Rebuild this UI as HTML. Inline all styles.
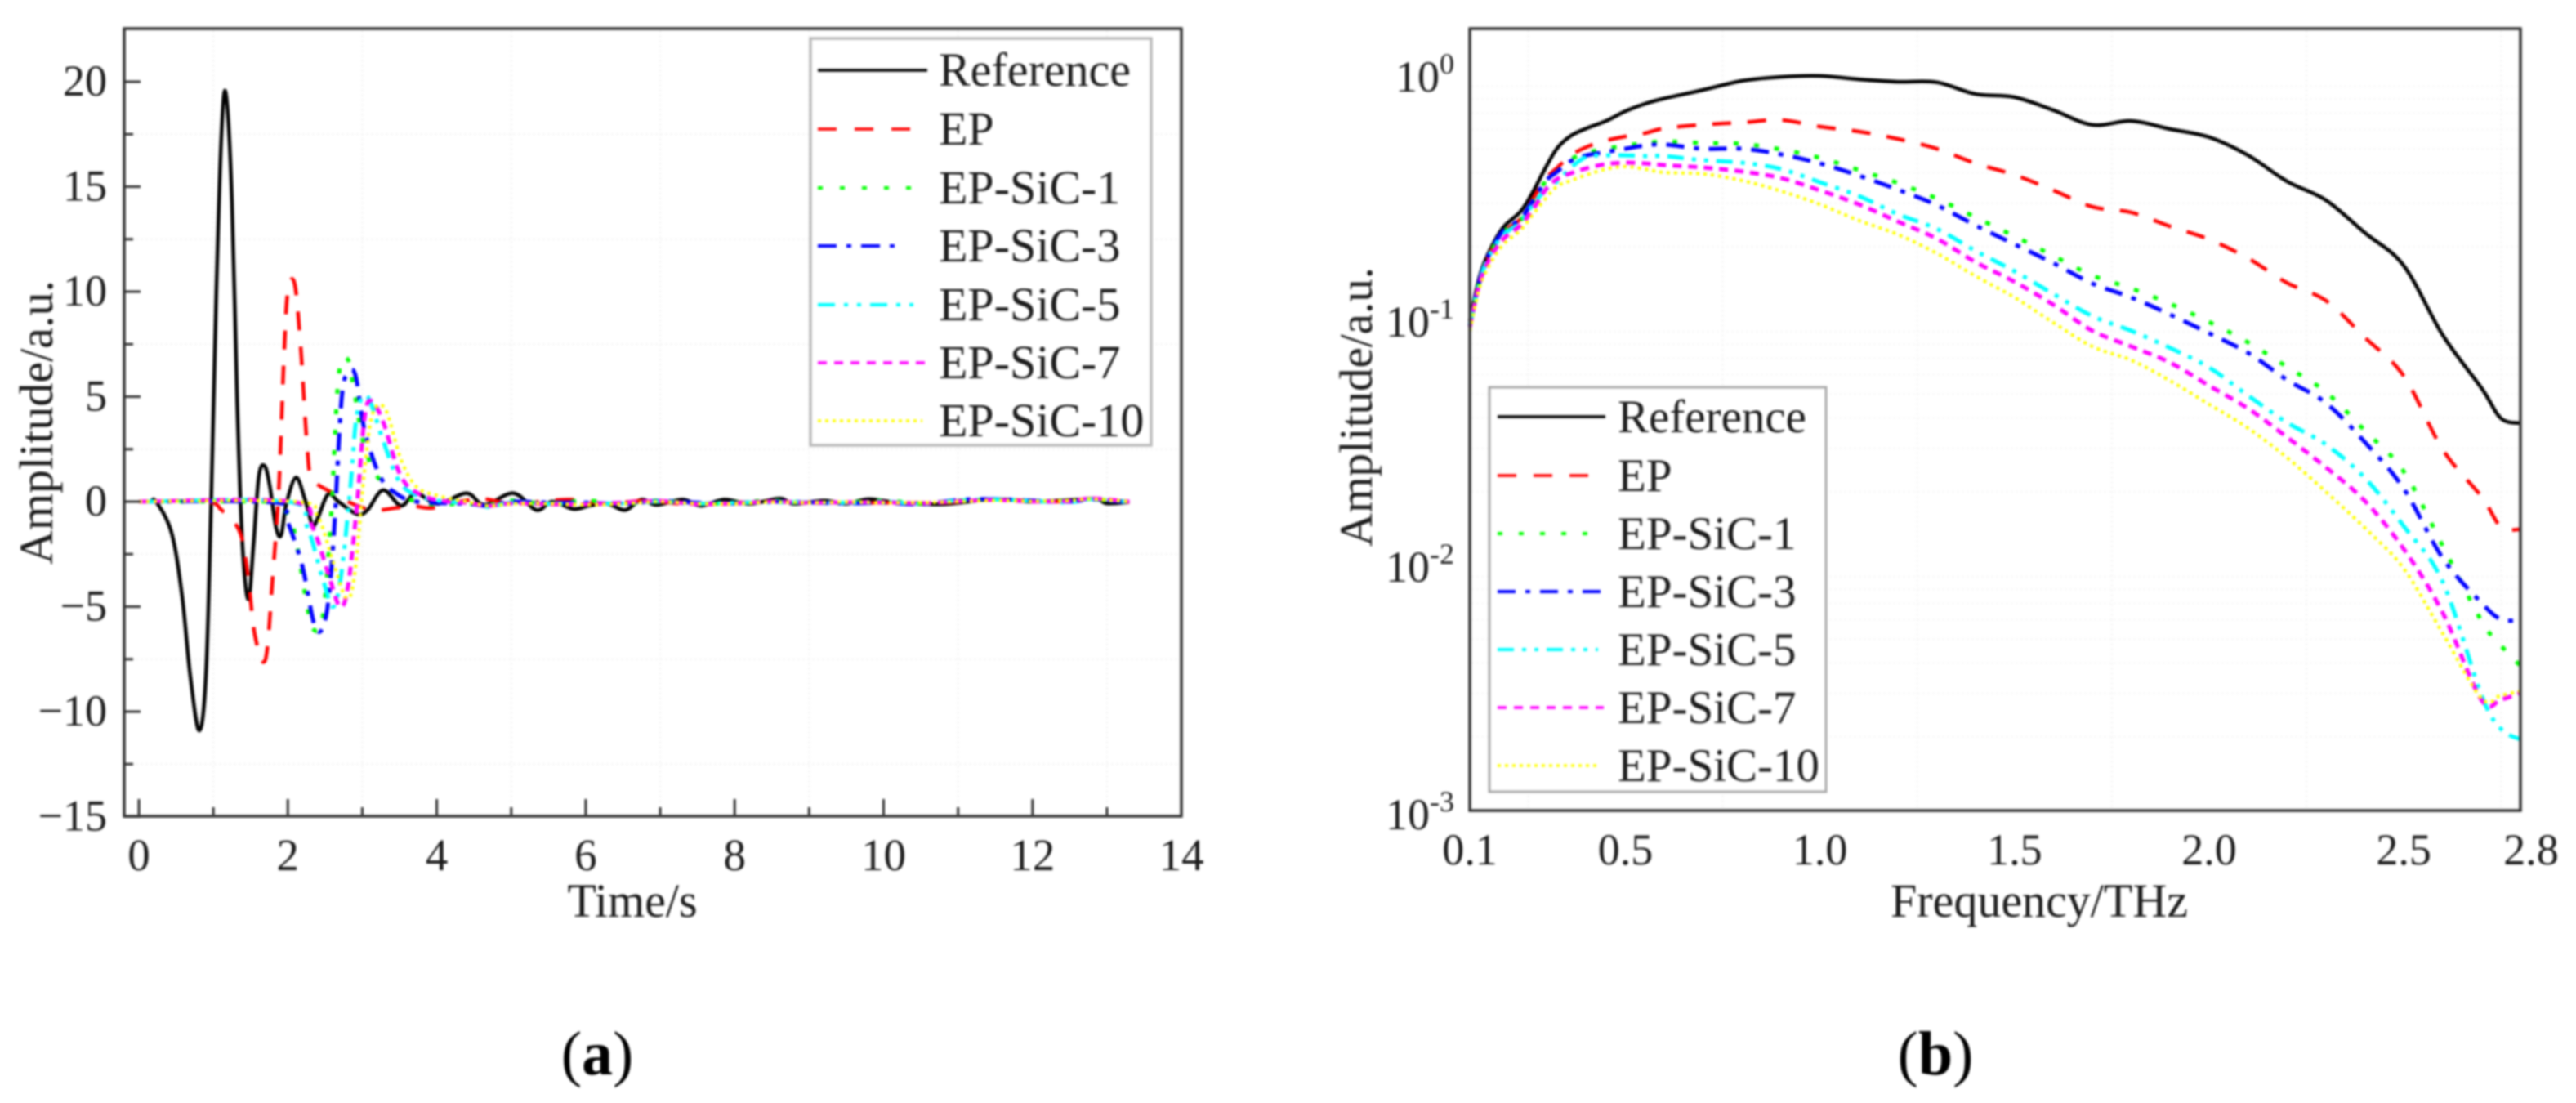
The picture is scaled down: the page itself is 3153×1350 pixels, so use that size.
<!DOCTYPE html>
<html lang="en">
<head>
<meta charset="utf-8">
<title>THz time-domain and frequency-domain spectra</title>
<style>
html,body{margin:0;padding:0;background:#fff;}
#figure{display:block;width:3153px;height:1350px;filter:blur(1.4px);font-family:"Liberation Serif",serif;fill:#1c1c1c;}
text{font-family:"Liberation Serif",serif;}
</style>
</head>
<body>
<svg id="figure" xmlns="http://www.w3.org/2000/svg" width="3153" height="1350" viewBox="0 0 3153 1350">
  <rect x="0" y="0" width="3153" height="1350" fill="#fff"/>

  <g id="panelA">
    <g id="gridA"></g>
    <g id="seriesA"></g>
    <rect x="152" y="35" width="1294" height="964" fill="none" stroke="#333" stroke-width="3.5"/>
    <g id="ticksA"></g>
    <text transform="translate(64,517) rotate(-90)" text-anchor="middle" font-size="58">Amplitude/a.u.</text>
    <text x="774" y="1122" text-anchor="middle" font-size="58">Time/s</text>
    <g>
      <rect x="992" y="47" width="417" height="498" fill="#fff" stroke="#bbb" stroke-width="3.5"/>
      <g><line x1="1001" x2="1135" y1="86" y2="86" stroke="#000" stroke-width="3.5"/><text x="1149" y="105" font-size="58">Reference</text></g>
      <g><line x1="1001" x2="1114" y1="158" y2="158" stroke="#f00" stroke-width="3.5" stroke-dasharray="23 22"/><text x="1149" y="177" font-size="58">EP</text></g>
      <g><line x1="1001" x2="1116" y1="230" y2="230" stroke="#0f0" stroke-width="4" stroke-dasharray="6 21"/><text x="1149" y="249" font-size="58">EP-SiC-1</text></g>
      <g><line x1="1001" x2="1104" y1="301" y2="301" stroke="#00f" stroke-width="4" stroke-dasharray="23 12 6 12"/><text x="1149" y="320" font-size="58">EP-SiC-3</text></g>
      <g><line x1="1001" x2="1126" y1="373" y2="373" stroke="#0ff" stroke-width="4" stroke-dasharray="21 11 5 11 5 11"/><text x="1149" y="392" font-size="58">EP-SiC-5</text></g>
      <g><line x1="1001" x2="1135" y1="444" y2="444" stroke="#f0f" stroke-width="3.5" stroke-dasharray="11 9"/><text x="1149" y="463" font-size="58">EP-SiC-7</text></g>
      <g><line x1="1001" x2="1129" y1="515" y2="515" stroke="#ff0" stroke-width="3.5" stroke-dasharray="4 5"/><text x="1149" y="534" font-size="58">EP-SiC-10</text></g>
    </g>
  </g>

  <g id="panelB">
    <g id="gridB"></g>
    <g id="seriesB"></g>
    <rect x="1799" y="35" width="1286" height="957" fill="none" stroke="#333" stroke-width="3.5"/>
    <g id="ticksB"></g>
    <text transform="translate(1679,498) rotate(-90)" text-anchor="middle" font-size="57">Amplitude/a.u.</text>
    <text x="2496" y="1122" text-anchor="middle" font-size="58">Frequency/THz</text>
    <g>
      <rect x="1823" y="474" width="412" height="495" fill="#fff" stroke="#aaa" stroke-width="3"/>
      <g><line x1="1833" x2="1965" y1="510" y2="510" stroke="#000" stroke-width="3.5"/><text x="1980" y="529" font-size="57">Reference</text></g>
      <g><line x1="1833" x2="1944" y1="582" y2="582" stroke="#f00" stroke-width="3.5" stroke-dasharray="23 21"/><text x="1980" y="601" font-size="57">EP</text></g>
      <g><line x1="1833" x2="1944" y1="653" y2="653" stroke="#0f0" stroke-width="4" stroke-dasharray="6 20"/><text x="1980" y="672" font-size="57">EP-SiC-1</text></g>
      <g><line x1="1833" x2="1965" y1="724" y2="724" stroke="#00f" stroke-width="4" stroke-dasharray="22 12 6 12"/><text x="1980" y="743" font-size="57">EP-SiC-3</text></g>
      <g><line x1="1833" x2="1956" y1="795" y2="795" stroke="#0ff" stroke-width="4" stroke-dasharray="20 10 5 10 5 10"/><text x="1980" y="814" font-size="57">EP-SiC-5</text></g>
      <g><line x1="1833" x2="1963" y1="866" y2="866" stroke="#f0f" stroke-width="3.5" stroke-dasharray="11 9"/><text x="1980" y="885" font-size="57">EP-SiC-7</text></g>
      <g><line x1="1833" x2="1958" y1="937" y2="937" stroke="#ff0" stroke-width="3.5" stroke-dasharray="4 5"/><text x="1980" y="956" font-size="57">EP-SiC-10</text></g>
    </g>
  </g>

  <text x="731" y="1315" text-anchor="middle" font-size="76" fill="#000">(<tspan font-weight="bold">a</tspan>)</text>
  <text x="2369" y="1315" text-anchor="middle" font-size="76" fill="#000">(<tspan font-weight="bold">b</tspan>)</text>
</svg>

<script>
// ---------- Panel (a): time domain ----------
const timeTicks = [0, 2, 4, 6, 8, 10, 12, 14];
const timeMinorTicks = [1, 3, 5, 7, 9, 11, 13];
const amplitudeTicks = [20, 15, 10, 5, 0, -5, -10, -15];
const amplitudeMinorTicks = [17.5, 12.5, 7.5, 2.5, -2.5, -7.5, -12.5];

const timeReference = [0,.15,.23,.44,.58,.69,.81,.9,.97,1.04,1.11,1.17,1.25,1.32,1.39,1.47,1.54,1.61,1.69,1.76,1.84,1.91,1.98,2.11,2.23,2.33,2.4,2.54,2.68,2.93,3.07,3.28,3.52,3.72,4.01,4.4,4.64,5.03,5.34,5.55,5.83,6.04,6.29,6.53,6.75,6.95,7.3,7.55,7.86,8.21,8.6,8.8,9.2,9.5,9.8,10.2,10.8,11.5,12,12.8,13,13.3];
const ampReference = [0,0,0,-1.5,-4.5,-8.3,-10.9,-8.3,-.1,10,17.6,19.4,14.3,4.8,-2,-4.65,-2,1.2,1.7,.7,-1.2,-1.6,-.1,1.15,.1,-1.1,-.8,.35,0,-.6,-.4,.55,-.2,.4,-.1,.4,-.15,.4,-.4,0,-.35,-.2,-.1,-.4,.1,-.15,.1,-.2,.1,-.1,.15,-.1,.05,-.1,.12,-.05,-.12,.12,0,.12,-.08,-.02];

const timeEP = [0,.9,1.11,1.35,1.46,1.56,1.7,1.8,1.88,1.95,2,2.09,2.17,2.26,2.33,2.61,2.9,3.17,3.45,3.66,3.94,4.3,4.64,5,5.4,5.8,6.3,6.8,7.3,7.9,8.5,9.2,10,10.8,11.5,12.3,12.8,13.3];
const ampEP = [0,0,-.4,-1.4,-3.4,-6.4,-7.5,-3.4,.7,7,10,10.4,7.5,2.6,1.1,.4,-.15,-.4,-.3,-.2,-.3,0,.12,-.1,0,.1,-.1,.05,-.1,-.05,0,-.05,-.05,-.05,.1,0,.15,-.02];

const tailTime = [4.4,4.7,5,5.5,6,6.5,7,7.5,8,8.5,9,9.5,10,10.5,11,11.5,12,12.5,12.8,13.3];

const timeSiC1 = [0,1.8,1.84,2.02,2.12,2.26,2.35,2.47,2.58,2.68,2.8,2.89,3.03,3.24,3.52,3.87];
const ampSiC1 = [0,0,-.15,-.7,-2,-5,-6.1,-5.5,-.7,5.9,6.8,5.3,2.6,1,.3,-.1];
const tailSiC1 = [-.1,-.15,.05,-.1,.05,-.1,.05,-.1,-.05,.05,-.05,-.05,.05,-.08,.05,.1,0,.05,.12,-.02];

const timeSiC3 = [0,1.85,1.98,2.19,2.37,2.51,2.61,2.72,2.81,2.91,3.03,3.24,3.45,3.73];
const ampSiC3 = [0,-.05,-.8,-3,-6,-5.5,-2,4.8,6.1,6,3.4,1.2,.4,0];
const tailSiC3 = [-.1,-.2,0,-.05,-.05,-.1,.03,-.05,-.08,0,-.03,-.08,-.05,-.12,.08,.12,.05,0,.1,-.03];

const timeSiC5 = [0,2,2.26,2.47,2.61,2.72,2.84,2.93,3.07,3.28,3.49,3.73,4.1];
const ampSiC5 = [0,0,-1.2,-3.7,-5,-3.4,.7,4.2,5,2.9,1,.3,0];
const tailSiC5 = [-.05,-.25,-.05,-.1,-.1,-.08,0,-.1,-.05,-.03,-.03,-.05,0,-.1,.05,.1,.03,-.03,.12,-.02];

const timeSiC7 = [0,2.05,2.33,2.54,2.7,2.81,2.93,3.03,3.12,3.28,3.52,3.8,4.15];
const ampSiC7 = [0,0,-1.2,-3.4,-5,-4,-.1,4,4.8,3.8,1.2,.3,0];
const tailSiC7 = [-.05,-.2,-.08,-.12,-.12,-.05,.03,-.12,-.08,0,-.05,-.03,-.03,-.08,.02,.08,0,.03,.15,0];

const timeSiC10 = [0,2.1,2.4,2.61,2.79,2.9,3.03,3.14,3.31,3.52,3.73,4,4.3];
const ampSiC10 = [0,0,-.7,-2.9,-4.6,-3.4,1.5,4.2,4.4,2,.7,.3,.05];
const tailSiC10 = [0,-.2,-.1,-.1,-.15,-.1,0,-.1,-.1,-.02,-.05,-.02,-.05,-.05,0,.05,.02,.05,.12,0];

// ---------- Panel (b): frequency domain (values are log10 of amplitude) ----------
const freqTicks = [0.1, 0.5, 1.0, 1.5, 2.0, 2.5, 2.8];
const freqGridLines = [0.25, 0.75, 1.25, 1.75, 2.25, 2.75];
const decadeExponents = [0, -1, -2, -3];

const frequency = [.1,.125,.15,.185,.23,.26,.295,.325,.36,.4,.45,.5,.55,.6,.7,.8,.9,1,1.1,1.2,1.3,1.4,1.5,1.6,1.7,1.8,1.9,2,2.1,2.2,2.3,2.4,2.5,2.6,2.7,2.75,2.8];
const logReference = [-1.003,-.823,-.72,-.623,-.557,-.483,-.377,-.297,-.247,-.217,-.187,-.147,-.117,-.095,-.06,-.023,-.007,-.003,-.017,-.027,-.029,-.077,-.09,-.143,-.203,-.187,-.22,-.253,-.327,-.433,-.51,-.643,-.777,-1.06,-1.277,-1.4,-1.42];
const logEP = [-1.027,-.843,-.733,-.643,-.587,-.51,-.423,-.377,-.327,-.293,-.267,-.25,-.237,-.217,-.202,-.193,-.183,-.21,-.23,-.26,-.3,-.36,-.407,-.47,-.537,-.56,-.617,-.67,-.747,-.847,-.92,-1.07,-1.227,-1.527,-1.72,-1.843,-1.853];
const logSiC1 = [-1.027,-.843,-.737,-.643,-.593,-.52,-.433,-.393,-.343,-.317,-.3,-.287,-.277,-.27,-.277,-.28,-.303,-.337,-.387,-.44,-.503,-.58,-.657,-.737,-.817,-.87,-.933,-1.007,-1.09,-1.19,-1.293,-1.45,-1.617,-1.92,-2.227,-2.327,-2.41];
const logSiC3 = [-1.02,-.837,-.73,-.637,-.587,-.517,-.433,-.393,-.35,-.327,-.313,-.3,-.287,-.283,-.3,-.3,-.323,-.36,-.41,-.467,-.53,-.613,-.69,-.767,-.85,-.907,-.977,-1.053,-1.133,-1.243,-1.337,-1.497,-1.687,-1.97,-2.153,-2.22,-2.223];
const logSiC5 = [-1.02,-.843,-.737,-.653,-.6,-.533,-.467,-.433,-.377,-.333,-.327,-.327,-.33,-.33,-.347,-.357,-.383,-.437,-.493,-.567,-.627,-.717,-.8,-.893,-.983,-1.043,-1.113,-1.193,-1.307,-1.417,-1.507,-1.643,-1.84,-2.067,-2.53,-2.667,-2.71];
const logSiC7 = [-1.027,-.85,-.753,-.67,-.613,-.553,-.467,-.423,-.4,-.38,-.363,-.357,-.36,-.367,-.377,-.393,-.42,-.47,-.527,-.597,-.667,-.763,-.843,-.937,-1.043,-1.107,-1.173,-1.267,-1.36,-1.477,-1.6,-1.737,-1.933,-2.193,-2.55,-2.547,-2.52];
const logSiC10 = [-1.043,-.867,-.777,-.693,-.633,-.573,-.503,-.453,-.43,-.407,-.383,-.373,-.383,-.397,-.403,-.43,-.473,-.527,-.593,-.65,-.727,-.82,-.907,-1.01,-1.107,-1.163,-1.247,-1.343,-1.44,-1.56,-1.7,-1.847,-2.013,-2.277,-2.543,-2.53,-2.513];

// ---------- Axis functions ----------
const xA = t => 170 + 91.15 * t;
const yA = v => 614 - 25.7 * v;
const xB = f => 1799 + 476.3 * (f - 0.1);
const yB = logA => 92 - 300 * logA;

const SVG_NS = 'http://www.w3.org/2000/svg';
function make(tag, parent, props) {
  const el = document.createElementNS(SVG_NS, tag);
  for (const k in props) el.setAttribute(k, props[k]);
  parent.appendChild(el);
  return el;
}
function smoothPath(pts) {
  let d = 'M' + pts[0][0].toFixed(1) + ' ' + pts[0][1].toFixed(1);
  for (let i = 0; i < pts.length - 1; i++) {
    const p0 = pts[Math.max(i - 1, 0)], p1 = pts[i], p2 = pts[i + 1], p3 = pts[Math.min(i + 2, pts.length - 1)];
    const c1x = p1[0] + (p2[0] - p0[0]) / 6, c1y = p1[1] + (p2[1] - p0[1]) / 6;
    const c2x = p2[0] - (p3[0] - p1[0]) / 6, c2y = p2[1] - (p3[1] - p1[1]) / 6;
    d += 'C' + c1x.toFixed(1) + ' ' + c1y.toFixed(1) + ' ' + c2x.toFixed(1) + ' ' + c2y.toFixed(1) + ' ' + p2[0].toFixed(1) + ' ' + p2[1].toFixed(1);
  }
  return d;
}
const styles = {
  reference: {stroke: '#000', w: 4.5, dash: 'none'},
  ep: {stroke: '#f00', w: 4.5, dash: '23 20'},
  sic1: {stroke: '#0f0', w: 5, dash: '6 19'},
  sic3: {stroke: '#00f', w: 5, dash: '22 12 6 12'},
  sic5: {stroke: '#0ff', w: 5, dash: '20 10 5 10 5 10'},
  sic7: {stroke: '#f0f', w: 5, dash: '11 8'},
  sic10: {stroke: '#ff0', w: 4, dash: '4 5'}
};
function drawSeries(parent, key, xs, ys, xScale, yScale) {
  const pts = xs.map((x, i) => [xScale(x), yScale(ys[i])]);
  const s = styles[key];
  const path = make('path', parent, {d: smoothPath(pts), fill: 'none', stroke: s.stroke, 'stroke-width': s.w, 'stroke-dasharray': s.dash, 'stroke-linejoin': 'round'});
  
  
}

// ---------- Draw panel (a) ----------
const gridA = document.getElementById('gridA');
const ticksA = document.getElementById('ticksA');
const seriesA = document.getElementById('seriesA');
timeMinorTicks.forEach(t => {
  const g = make('line', gridA, {x1: xA(t), x2: xA(t), y1: 37, y2: 997, stroke: '#f4f4f4', 'stroke-width': 2, 'stroke-dasharray': '3 3'});
  
  
  const m = make('line', ticksA, {x1: xA(t), x2: xA(t), y1: 999, y2: 988, stroke: '#333', 'stroke-width': 3});
  
  
});
amplitudeMinorTicks.forEach(v => {
  const g = make('line', gridA, {x1: 154, x2: 1444, y1: yA(v), y2: yA(v), stroke: '#f4f4f4', 'stroke-width': 2, 'stroke-dasharray': '3 3'});
  
  
  const m = make('line', ticksA, {x1: 152, x2: 163, y1: yA(v), y2: yA(v), stroke: '#333', 'stroke-width': 3});
  
  
});
timeTicks.forEach(t => {
  if (t < 14) {
    const m = make('line', ticksA, {x1: xA(t), x2: xA(t), y1: 999, y2: 978, stroke: '#333', 'stroke-width': 3});
    
    
  }
  const l = make('text', ticksA, {x: xA(t), y: 1065, 'text-anchor': 'middle', 'font-size': 55});
  l.textContent = String(t);
  
  
});
amplitudeTicks.forEach(v => {
  const m = make('line', ticksA, {x1: 152, x2: 172, y1: yA(v), y2: yA(v), stroke: '#333', 'stroke-width': 3});
  
  
  const l = make('text', ticksA, {x: 131, y: yA(v) + 17, 'text-anchor': 'end', 'font-size': 54});
  l.textContent = String(v).replace('-', '\u2212');
  
  
});
drawSeries(seriesA, 'reference', timeReference, ampReference, xA, yA);
drawSeries(seriesA, 'ep', timeEP, ampEP, xA, yA);
drawSeries(seriesA, 'sic1', [...timeSiC1, ...tailTime], [...ampSiC1, ...tailSiC1], xA, yA);
drawSeries(seriesA, 'sic3', [...timeSiC3, ...tailTime], [...ampSiC3, ...tailSiC3], xA, yA);
drawSeries(seriesA, 'sic5', [...timeSiC5, ...tailTime], [...ampSiC5, ...tailSiC5], xA, yA);
drawSeries(seriesA, 'sic7', [...timeSiC7, ...tailTime], [...ampSiC7, ...tailSiC7], xA, yA);
drawSeries(seriesA, 'sic10', [...timeSiC10, ...tailTime], [...ampSiC10, ...tailSiC10], xA, yA);

// ---------- Draw panel (b) ----------
const gridB = document.getElementById('gridB');
const ticksB = document.getElementById('ticksB');
const seriesB = document.getElementById('seriesB');
freqGridLines.forEach(f => {
  const g = make('line', gridB, {x1: xB(f), x2: xB(f), y1: 37, y2: 990, stroke: '#f5f5f5', 'stroke-width': 2, 'stroke-dasharray': '3 3'});
  
  
});
decadeExponents.forEach(e => {
  if (e > -3) {
    for (let m = 2; m <= 9; m++) {
      const v = e - 1 + Math.log10(m);
      const g = make('line', gridB, {x1: 1801, x2: 3083, y1: yB(v), y2: yB(v), stroke: '#f7f7f7', 'stroke-width': 2, 'stroke-dasharray': '3 3'});
      
      
    }
  }
  const l = make('text', ticksB, {x: 1780, y: yB(e) + (e === -3 ? 23 : 20), 'text-anchor': 'end', 'font-size': 54});
  
  
  const base = make('tspan', l, {});
  base.textContent = '10';
  const sup = make('tspan', l, {dy: -22, 'font-size': 36});
  sup.textContent = String(e);
});
freqTicks.forEach(f => {
  const l = make('text', ticksB, {x: f === 2.8 ? xB(f) + 13 : xB(f), y: 1058, 'text-anchor': 'middle', 'font-size': 54});
  l.textContent = f.toFixed(1);
  
  
});
drawSeries(seriesB, 'reference', frequency, logReference, xB, yB);
drawSeries(seriesB, 'ep', frequency, logEP, xB, yB);
drawSeries(seriesB, 'sic1', frequency, logSiC1, xB, yB);
drawSeries(seriesB, 'sic3', frequency, logSiC3, xB, yB);
drawSeries(seriesB, 'sic5', frequency, logSiC5, xB, yB);
drawSeries(seriesB, 'sic7', frequency, logSiC7, xB, yB);
drawSeries(seriesB, 'sic10', frequency, logSiC10, xB, yB);
</script>
</body>
</html>
